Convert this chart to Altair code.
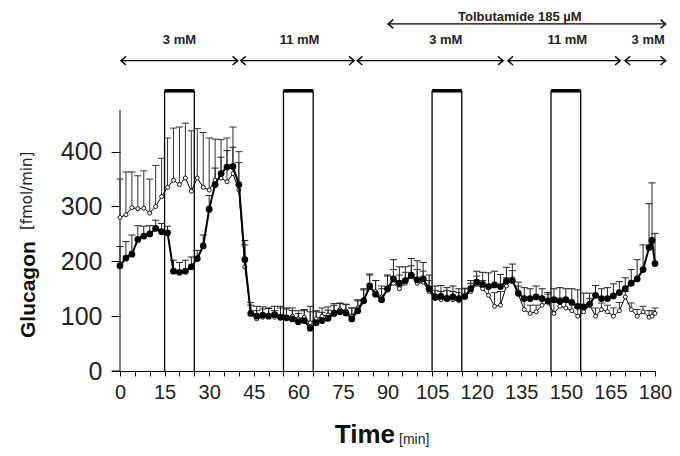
import altair as alt
import pandas as pd

# ---------------- data ----------------
T = list(range(0, 179, 2)) + [179, 180]

closed = [192, 206, 213, 240, 246, 250, 260, 254, 252,
          182, 180, 182, 190, 205,
          228, 295, 340, 360, 372, 373,
          340, 203,
          105, 100, 102, 100, 103, 98, 97, 95, 90, 92, 78, 88, 92, 96, 105, 108, 106, 95, 110,
          128, 155, 140, 130, 150, 168, 160, 165, 175, 166, 168, 150, 135, 136, 132, 135, 132, 136, 150, 162, 158, 154, 157, 154, 164, 165,
          142, 132, 132, 135, 132, 128, 130, 127, 130, 125, 118, 117, 122, 138, 132, 132, 137, 143, 150,
          160, 168, 185, 225, 238, 196]
closed_err = [35, 30, 35, 25, 18, 15, 15, 15, 12,
              20, 18, 20, 18, 15,
              20, 25, 30, 30, 30, 35,
              40, 35,
              15, 18, 15, 15, 15, 20, 18, 15, 15, 20, 40, 20, 15, 15, 15, 15, 15, 20, 18,
              20, 20, 25, 20, 25, 35, 30, 25, 30, 35, 30, 25, 20, 20, 20, 20, 18, 15, 15, 20, 22, 25, 25, 22, 25, 30,
              20, 20, 18, 20, 18, 15, 20, 25, 20, 25, 30, 25, 20, 18, 18, 20, 22, 20, 20,
              25, 35, 45, 80, 105, 55]
open_v = [280, 285, 298, 296, 297, 288, 300, 318, 335,
          348, 340, 352, 328, 352,
          335, 330, 348, 352, 345, 360,
          330, 190,
          105, 95, 98, 102, 98, 100, 98, 100, 95, 98, 88, 95, 100, 102, 108, 112, 110, 100, 115,
          130, 152, 145, 135, 148, 160, 150, 160, 172, 160, 162, 145, 132, 130, 135, 130, 128, 135, 145, 158, 150, 138, 118, 120, 155, 168,
          140, 112, 105, 108, 120, 125, 105, 118, 115, 110, 100, 108, 120, 100, 112, 108, 100, 110, 135,
          112, 100, 108, 98, 100, 105]
open_err = [70, 78, 65, 60, 68, 62, 75, 70, 90,
            95, 105, 100, 110, 90,
            100, 95, 75, 70, 80, 85,
            70, 40,
            20, 15, 15, 12, 12, 15, 15, 15, 15, 12, 20, 15, 15, 15, 15, 12, 12, 15, 15,
            20, 25, 20, 20, 25, 25, 25, 20, 20, 25, 20, 20, 15, 15, 12, 15, 15, 15, 15, 15, 15, 15, 25, 25, 15, 15,
            15, 20, 15, 12, 12, 15, 20, 15, 15, 15, 15, 12, 12, 15, 12, 12, 15, 15, 10,
            12, 12, 10, 12, 10, 10]

box_start = [15, 55, 105, 145]
box_end = [25, 65, 115, 155]
box_top = 511

seg_start = [0.3, 40.6, 79.8, 130.5, 169.9]
seg_end = [39.6, 78.8, 128.9, 168.3, 183.6]
seg_label = ["3 mM", "11 mM", "3 mM", "11 mM", "3 mM"]
seg_label_x = [20, 60.4, 109.6, 150.5, 177.7]
glucose_arrow_y = 566
glucose_label_y = 604

tolb_start = [90.2]
tolb_end = [183.6]
tolb_arrow_y = 633
tolb_label = ["Tolbutamide 185 µM"]
tolb_label_x = [134.5]
tolb_label_y = 646

x_ticks = list(range(0, 181, 5))
y_ticks = [0, 100, 200, 300, 400]
y_axis_top = 476

# ---------------- frames ----------------
dfc = pd.DataFrame({"t": T, "v": closed, "e": closed_err})
dfo = pd.DataFrame({"t": T, "v": open_v, "e": open_err})
dfb = pd.DataFrame({"s": box_start, "e": box_end, "top": box_top})
dfb_edges = pd.DataFrame({"t": box_start + box_end, "top": box_top})
dfs = pd.DataFrame({"t": seg_start, "t2": seg_end, "v": glucose_arrow_y,
                    "lx": seg_label_x, "lab": seg_label, "ly": glucose_label_y})
dft = pd.DataFrame({"t": tolb_start, "t2": tolb_end, "v": tolb_arrow_y,
                    "lx": tolb_label_x, "lab": tolb_label, "ly": tolb_label_y})

FONT = "Liberation Sans"
NARROW = "Liberation Sans Narrow, Arial Narrow, Liberation Sans"

xscale = alt.Scale(domain=[0, 180], nice=False, zero=False)
yscale = alt.Scale(domain=[0, 662], nice=False, zero=False)
xaxis = alt.Axis(values=x_ticks, labelExpr="datum.value % 15 == 0 ? datum.label : ''",
                 tickSize=5, tickColor="black", domainColor="black", labelFontSize=20,
                 labelFont=NARROW, labelColor="#222", labelPadding=6, grid=False, title=None,
                 labelFlush=False, labelOverlap=False)
yaxis = alt.Axis(values=y_ticks, domain=False, tickSize=9, tickColor="black",
                 labelFontSize=25, labelFont=FONT, labelColor="#222", labelPadding=9,
                 grid=False, title=None)


def X(field="t"):
    return alt.X(f"{field}:Q", scale=xscale, axis=xaxis)


def Y(field="v"):
    return alt.Y(f"{field}:Q", scale=yscale, axis=yaxis)


# boxes
box_edges = alt.Chart(dfb_edges).mark_rule(color="black", strokeWidth=1.3).encode(
    x=X("t"), y=alt.Y("zero:Q", scale=yscale, axis=yaxis), y2="top:Q"
).transform_calculate(zero="0")
box_tops = alt.Chart(dfb).mark_rule(color="black", strokeWidth=3.5).encode(
    x=X("s"), x2="e:Q", y=Y("top")
)

# axis line pieces
axis_df = pd.DataFrame({"t": [0], "v": [0], "v2": [y_axis_top], "tl": [-2.66]})
y_line = alt.Chart(axis_df).mark_rule(color="black", strokeWidth=1).encode(
    x=X("t"), y=Y("v"), y2="v2:Q")
x_ext = alt.Chart(axis_df).mark_rule(color="black", strokeWidth=1).encode(
    x=X("tl"), x2="t:Q", y=Y("v"))

# arrows
LEFT = "M0.9,-0.75L0,0L0.9,0.75"
RIGHT = "M-0.9,-0.75L0,0L-0.9,0.75"


def arrows(df):
    line = alt.Chart(df).mark_rule(color="black", strokeWidth=1.2).encode(
        x=X("t"), x2="t2:Q", y=Y("v"))
    lh = alt.Chart(df).mark_point(shape=LEFT, filled=False, color="black", size=130,
                                  strokeWidth=1.4, opacity=1).encode(x=X("t"), y=Y("v"))
    rh = alt.Chart(df).mark_point(shape=RIGHT, filled=False, color="black", size=130,
                                  strokeWidth=1.4, opacity=1).encode(x=X("t2"), y=Y("v"))
    txt = alt.Chart(df).mark_text(font=FONT, fontWeight="bold", fontSize=13, color="#222",
                                  baseline="middle").encode(x=X("lx"), y=Y("ly"), text="lab:N")
    return [line, lh, rh, txt]


# error bars
def errbars(df, color):
    base = alt.Chart(df).transform_calculate(hi="datum.v + datum.e", xl="datum.t - 1.2",
                                             xr="datum.t + 1.2")
    stem = base.mark_rule(color=color, strokeWidth=1).encode(x=X("t"), y=Y("v"), y2="hi:Q")
    cap = base.mark_rule(color=color, strokeWidth=1).encode(x=X("xl"), x2="xr:Q", y=Y("hi"))
    return [stem, cap]


open_line = alt.Chart(dfo).mark_line(color="black", strokeWidth=1).encode(x=X(), y=Y())
open_pts = alt.Chart(dfo).mark_point(shape="circle", filled=True, fill="white", stroke="black",
                                     strokeWidth=0.9, size=16, opacity=1).encode(x=X(), y=Y())
closed_line = alt.Chart(dfc).mark_line(color="black", strokeWidth=2).encode(x=X(), y=Y())
closed_pts = alt.Chart(dfc).mark_point(shape="circle", filled=True, color="black", size=46,
                                       opacity=1).encode(x=X(), y=Y())

# axis titles (annotation text)
title_df = pd.DataFrame({"a": [0]})
glu = alt.Chart(title_df).mark_text(text="Glucagon", font=FONT, fontWeight="bold", fontSize=21,
                                    angle=270, align="left", baseline="alphabetic",
                                    color="#111").encode(x=alt.value(-85), y=alt.value(330))
glu_u = alt.Chart(title_df).mark_text(text="[fmol/min]", font="DejaVu Sans", fontSize=15,
                                      angle=270, align="left", baseline="alphabetic",
                                      color="#222").encode(x=alt.value(-88), y=alt.value(222))
time_t = alt.Chart(title_df).mark_text(text="Time", font=FONT, fontWeight="bold", fontSize=26,
                                       align="right", baseline="alphabetic",
                                       color="#111").encode(x=alt.value(275), y=alt.value(435))
time_u = alt.Chart(title_df).mark_text(text="[min]", font=FONT, fontSize=14,
                                       align="left", baseline="alphabetic",
                                       color="#222").encode(x=alt.value(279), y=alt.value(436))

layers = ([box_edges, box_tops, y_line, x_ext] + arrows(dfs) + arrows(dft)
          + errbars(dfo, "#333") + errbars(dfc, "#222")
          + [open_line, open_pts, closed_line, closed_pts, glu, glu_u, time_t, time_u])

chart = alt.layer(*layers).properties(
    width=535, height=363,
    padding={"left": 112, "top": 0, "right": 17, "bottom": 77},
    autosize=alt.AutoSizeParams(type="none"),
).configure_view(stroke=None)

chart.save("out.html", embed_options={"renderer": "svg", "actions": False})
